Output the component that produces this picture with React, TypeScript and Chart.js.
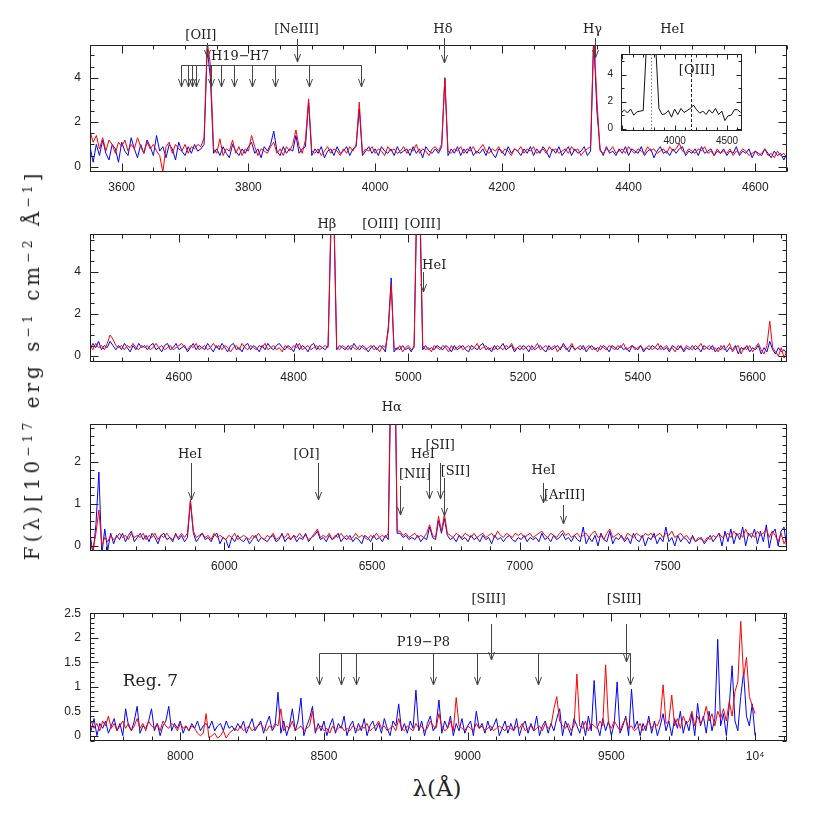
import React, { useEffect, useRef } from "react";
import { Chart, registerables } from "chart.js";

Chart.register(...registerables);

const RED = "rgb(255,0,0)";
const BLUE = "rgb(0,0,255)";

// ---------------- Panel 1 : 3550-4650 A ----------------
const P1_START = 3550;
const P1_STEP = 5;
const P1_RED = [
  1.6, 1.1, 1.4, 0.8, 1.3, 0.7, 1.2, 1.0, 0.6, 1.1,
  0.9, 1.2, 0.7, 1.0, 0.8, 1.3, 0.9, 0.6, 1.1, 0.8,
  1.0, 0.7, 0.5, -0.25, 0.9, 1.1, 0.6, 1.0, 0.8, 0.7,
  1.0, 0.6, 0.9, 0.8, 1.0, 0.9, 1.3, 5.6, 4.6, 0.8,
  0.6, 1.25, 0.5, 0.8, 0.7, 1.2, 0.6, 0.9, 0.5, 0.8,
  0.7, 1.4, 0.9, 0.5, 0.8, 0.7, 0.6, 0.9, 1.1, 0.6,
  0.8, 0.5, 0.9, 0.7, 1.0, 1.65, 0.9, 0.6, 1.2, 3.05,
  0.7, 0.6, 0.8, 0.5, 0.7, 0.9, 0.6, 0.8, 0.7, 0.5,
  0.8, 0.6, 0.9, 0.7, 1.0, 2.9, 0.6, 0.8, 0.7, 0.9,
  0.6, 0.8, 0.7, 0.5, 0.9, 0.7, 0.8, 0.6, 0.7, 0.9,
  0.6, 0.8, 0.7, 1.0, 0.6, 0.8, 0.7, 0.5, 0.8, 0.9,
  0.7, 1.0, 3.95, 0.7, 0.6, 0.8, 0.7, 0.9, 0.6, 0.8,
  0.7, 0.9, 0.6, 0.8, 1.0, 0.7, 0.6, 0.8, 0.7, 0.9,
  0.6, 0.8, 0.7, 0.5, 0.8, 0.7, 0.9, 0.6, 0.8, 0.7,
  0.9, 0.6, 0.7, 0.8, 0.6, 0.9, 0.7, 0.8, 0.6, 0.7,
  0.8, 0.6, 0.9, 0.7, 0.8, 0.5, 0.7, 0.8, 0.9, 6.0,
  3.0, 0.7, 0.6, 0.8, 0.7, 0.9, 0.6, 0.7, 0.8, 0.6,
  0.9, 0.7, 0.6, 0.8, 0.7, 0.6, 0.9, 0.7, 0.8, 0.6,
  0.7, 0.8, 0.6, 0.9, 0.7, 0.8, 1.05, 0.7, 0.6, 0.8,
  0.7, 0.6, 0.8, 0.7, 0.9, 0.6, 0.7, 0.5, 0.8, 0.6,
  0.7, 0.6, 0.8, 0.5, 0.7, 0.6, 0.8, 0.7, 0.5, 0.6,
  0.7, 0.5, 0.6, 0.8, 0.5, 0.6, 0.4, 0.7, 0.5, 0.6, 0.4,
];
const P1_BLUE = [
  0.9, 0.2, 1.0, 0.5, 1.2, 0.6, 0.3, 1.0, 0.8, 0.2,
  1.1, 0.7, 0.5, 1.3, 0.8, 0.4, 1.0, 0.6, 1.2, 0.9,
  0.5, 1.4, 0.7, 0.9, 0.4, 1.0, 0.8, 0.3, 1.1, 0.7,
  0.5, 0.9, 0.6, 1.0, 0.7, 0.8, 1.0, 5.3, 4.0, 0.6,
  0.8, 0.5, 0.9, 0.6, 0.4, 1.0, 0.7, 0.5, 0.8, 0.6,
  0.9, 1.1, 0.6, 0.8, 0.4, 0.9, 0.7, 1.0, 1.6, 0.7,
  0.5, 0.9, 0.6, 0.8, 0.7, 1.4, 0.6, 0.8, 0.9, 2.9,
  0.5, 0.8, 0.6, 0.9, 0.4, 0.7, 0.8, 0.5, 0.9, 0.6,
  0.7, 0.9, 0.5, 0.8, 0.9, 2.6, 0.5, 0.7, 0.9, 0.6,
  0.8, 0.5, 0.9, 0.7, 0.6, 0.8, 0.5, 0.9, 0.6, 0.7,
  0.8, 0.5, 0.9, 0.6, 0.8, 0.4, 0.9, 0.7, 0.6, 0.8,
  0.6, 0.9, 4.0, 0.5, 0.8, 0.6, 0.9, 0.5, 0.8, 0.6,
  0.9, 0.5, 0.7, 0.6, 0.8, 0.5, 0.9, 0.6, 0.4, 0.8,
  0.7, 0.5, 0.9, 0.6, 0.8, 0.7, 0.5, 0.8, 0.6, 0.9,
  0.5, 0.8, 0.6, 0.9, 0.7, 0.4, 0.8, 0.6, 0.9, 0.5,
  0.7, 0.9, 0.5, 0.8, 0.6, 0.7, 0.9, 0.5, 0.7, 5.8,
  2.5, 0.8, 0.5, 0.9, 0.6, 0.7, 0.5, 0.8, 0.6, 0.9,
  0.5, 0.8, 0.7, 0.6, 0.9, 0.5, 0.7, 0.8, 0.4, 0.7,
  0.9, 0.6, 0.7, 0.5, 0.8, 0.6, 0.8, 0.9, 0.5, 0.7,
  0.6, 0.8, 0.5, 0.9, 0.6, 0.7, 0.8, 0.5, 0.7, 0.6,
  0.8, 0.5, 0.7, 0.6, 0.9, 0.5, 0.7, 0.6, 0.8, 0.4,
  0.7, 0.6, 0.5, 0.8, 0.6, 0.4, 0.7, 0.5, 0.6, 0.3, 0.6,
];
const P1_XTICKS = [3600, 3800, 4000, 4200, 4400, 4600];
const P1_YTICKS = [0, 2, 4];

// ---------------- Panel 2 : 4445-5660 A ----------------
const P2_START = 4445;
const P2_STEP = 5;
const P2_RED = [
  0.5, 0.3, 0.6, 0.4, 0.5, 0.3, 0.6, 1.0, 0.8, 0.5,
  0.4, 0.5, 0.3, 0.5, 0.4, 0.6, 0.4, 0.3, 0.5, 0.4,
  0.5, 0.3, 0.4, 0.6, 0.4, 0.5, 0.3, 0.4, 0.5, 0.3,
  0.4, 0.5, 0.6, 0.4, 0.3, 0.5, 0.4, 0.6, 0.3, 0.4,
  0.5, 0.3, 0.4, 0.6, 0.4, 0.5, 0.3, 0.5, 0.4, 0.2,
  0.4, 0.5, 0.3, 0.6, 0.4, 0.3, 0.5, 0.4, 0.3, 0.5,
  0.4, 0.6, 0.3, 0.4, 0.5, 0.3, 0.4, 0.2, 0.5, 0.4,
  0.3, 0.5, 0.4, 0.6, 0.3, 0.4, 0.5, 0.3, 0.4, 0.5,
  0.3, 0.4, 0.5, 0.4, 6.5, 7.0, 0.4, 0.3, 0.5, 0.4,
  0.3, 0.5, 0.4, 0.3, 0.5, 0.4, 0.3, 0.4, 0.5, 0.3,
  0.4, 0.2, 0.5, 0.4, 1.2, 3.4, 0.4, 0.3, 0.5, 0.2,
  0.4, 0.5, 0.3, 0.4, 8.0, 7.5, 0.5, 0.3, 0.4, 0.2,
  0.5, 0.4, 0.3, 0.5, 0.4, 0.2, 0.5, 0.3, 0.4, 0.5,
  0.3, 0.4, 0.5, 0.3, 0.4, 0.6, 0.3, 0.4, 0.5, 0.3,
  0.4, 0.3, 0.5, 0.4, 0.3, 0.5, 0.4, 0.6, 0.3, 0.4,
  0.5, 0.3, 0.4, 0.5, 0.3, 0.4, 0.6, 0.3, 0.4, 0.5,
  0.3, 0.4, 0.5, 0.2, 0.4, 0.5, 0.3, 0.4, 0.6, 0.3,
  0.4, 0.5, 0.3, 0.4, 0.5, 0.3, 0.4, 0.2, 0.5, 0.4,
  0.3, 0.5, 0.4, 0.3, 0.5, 0.4, 0.6, 0.3, 0.4, 0.5,
  0.3, 0.4, 0.5, 0.3, 0.4, 0.5, 0.3, 0.4, 0.6, 0.3,
  0.4, 0.5, 0.3, 0.4, 0.2, 0.5, 0.4, 0.3, 0.5, 0.4,
  0.3, 0.5, 0.4, 0.6, 0.3, 0.4, 0.5, 0.3, 0.4, 0.2,
  0.5, 0.3, 0.4, 0.6, 0.2, 0.4, 0.5, 0.1, 0.4, 0.3,
  0.5, 0.2, 0.4, 0.6, 0.3, 0.1, 0.5, 1.65, 0.4, 0.2,
  0.0, 0.4, -0.1, 0.3,
];
const P2_BLUE = [
  0.3, 0.6, 0.4, 0.7, 0.3, 0.5, 0.4, 0.7, 0.5, 0.3,
  0.5, 0.3, 0.6, 0.4, 0.2, 0.5, 0.3, 0.6, 0.4, 0.5,
  0.3, 0.5, 0.6, 0.3, 0.4, 0.2, 0.5, 0.6, 0.3, 0.4,
  0.6, 0.3, 0.4, 0.5, 0.2, 0.4, 0.6, 0.3, 0.5, 0.4,
  0.3, 0.6, 0.4, 0.2, 0.5, 0.3, 0.6, 0.4, 0.2, 0.5,
  0.6, 0.3, 0.4, 0.2, 0.5, 0.6, 0.3, 0.5, 0.4, 0.2,
  0.5, 0.3, 0.6, 0.4, 0.3, 0.5, 0.6, 0.4, 0.3, 0.5,
  0.4, 0.2, 0.6, 0.3, 0.5, 0.4, 0.2, 0.5, 0.6, 0.3,
  0.5, 0.4, 0.3, 0.5, 6.0, 6.8, 0.3, 0.5, 0.4, 0.3,
  0.5, 0.3, 0.6, 0.4, 0.3, 0.5, 0.4, 0.2, 0.4, 0.5,
  0.3, 0.5, 0.4, 0.2, 1.4, 3.7, 0.2, 0.4, 0.3, 0.5,
  0.3, 0.4, 0.2, 0.5, 7.8, 7.0, 0.3, 0.5, 0.3, 0.4,
  0.3, 0.5, 0.4, 0.3, 0.5, 0.4, 0.2, 0.5, 0.3, 0.4,
  0.5, 0.3, 0.2, 0.5, 0.4, 0.3, 0.5, 0.6, 0.3, 0.4,
  0.2, 0.5, 0.3, 0.4, 0.6, 0.3, 0.4, 0.5, 0.2, 0.4,
  0.3, 0.5, 0.4, 0.2, 0.5, 0.3, 0.4, 0.5, 0.3, 0.2,
  0.5, 0.3, 0.4, 0.5, 0.3, 0.6, 0.4, 0.2, 0.5, 0.3,
  0.4, 0.3, 0.5, 0.2, 0.4, 0.5, 0.3, 0.4, 0.3, 0.5,
  0.4, 0.2, 0.5, 0.4, 0.3, 0.5, 0.3, 0.4, 0.2, 0.5,
  0.4, 0.3, 0.5, 0.2, 0.4, 0.3, 0.5, 0.4, 0.3, 0.5,
  0.3, 0.4, 0.2, 0.5, 0.4, 0.3, 0.5, 0.2, 0.4, 0.3,
  0.5, 0.3, 0.4, 0.2, 0.5, 0.4, 0.3, 0.5, 0.2, 0.4,
  0.3, 0.5, 0.2, 0.4, 0.3, 0.5, 0.1, 0.4, 0.3, 0.5,
  0.2, 0.4, 0.3, 0.5, 0.1, 0.4, 0.2, 0.7, 0.3, 0.1,
  0.4, 0.2, 0.3, 0.1,
];
const P2_XTICKS = [4600, 4800, 5000, 5200, 5400, 5600];
const P2_YTICKS = [0, 2, 4];

// ---------------- Panel 3 : 5545-7905 A ----------------
const P3_START = 5545;
const P3_STEP = 10;
const P3_RED = [
  0.1, -0.1, 0.3, 0.85, 0.0, 0.2, 0.1, 0.25, 0.15, 0.2,
  0.3, 0.2, 0.25, 0.15, 0.3, 0.2, 0.25, 0.2, 0.3, 0.15,
  0.25, 0.2, 0.3, 0.15, 0.25, 0.2, 0.3, 0.2, 0.15, 0.25,
  0.2, 0.3, 0.2, 0.3, 1.1, 0.35, 0.2, 0.25, 0.3, 0.2,
  0.25, 0.15, 0.3, 0.2, 0.25, 0.2, 0.15, 0.25, 0.2, 0.3,
  0.15, 0.2, 0.25, 0.2, 0.15, 0.25, 0.2, 0.3, 0.2, 0.15,
  0.25, 0.2, 0.3, 0.15, 0.2, 0.25, 0.2, 0.3, 0.15, 0.25,
  0.2, 0.3, 0.2, 0.25, 0.15, 0.2, 0.3, 0.4, 0.2, 0.25,
  0.2, 0.3, 0.15, 0.25, 0.2, 0.3, 0.2, 0.25, 0.15, 0.2,
  0.3, 0.2, 0.25, 0.2, 0.15, 0.25, 0.2, 0.3, 0.2, 0.25,
  0.2, 0.3, 5.0, 6.0, 0.35, 0.35, 0.25, 0.3, 0.2, 0.25,
  0.3, 0.2, 0.25, 0.2, 0.3, 0.5, 0.25, 0.2, 0.7, 0.35,
  0.75, 0.3, 0.25, 0.2, 0.3, 0.25, 0.2, 0.3, 0.25, 0.2,
  0.3, 0.2, 0.25, 0.3, 0.2, 0.25, 0.3, 0.2, 0.35, 0.25,
  0.2, 0.3, 0.25, 0.2, 0.3, 0.25, 0.3, 0.2, 0.25, 0.3,
  0.2, 0.25, 0.3, 0.35, 0.25, 0.2, 0.3, 0.25, 0.2, 0.3,
  0.37, 0.25, 0.3, 0.2, 0.25, 0.3, 0.2, 0.25, 0.3, 0.2,
  0.3, 0.35, 0.2, 0.25, 0.15, 0.3, 0.4, 0.2, 0.25, 0.3,
  0.2, 0.15, 0.3, 0.25, 0.2, 0.3, 0.25, 0.2, 0.3, 0.25,
  0.3, 0.2, 0.25, 0.3, 0.2, 0.3, 0.25, 0.35, 0.2, 0.25,
  0.3, 0.2, 0.25, 0.15, 0.2, 0.1, 0.2, 0.15, 0.1, 0.2,
  0.15, 0.25, 0.2, 0.3, 0.2, 0.25, 0.3, 0.2, 0.35, 0.25,
  0.3, 0.2, 0.4, 0.25, 0.3, 0.2, 0.35, 0.25, 0.3, 0.4,
  0.2, 0.35, 0.25, 0.1, 0.3, 0.05, 0.2,
];
const P3_BLUE = [
  0.3, -0.2, 0.5, 1.75, -0.2, 0.4, -0.1, 0.3, 0.05, 0.25,
  0.15, 0.3, 0.1, 0.25, 0.35, 0.1, 0.2, 0.3, 0.15, 0.25,
  0.1, 0.3, 0.2, 0.05, 0.25, 0.3, 0.15, 0.2, 0.1, 0.3,
  0.15, 0.25, 0.1, 0.2, 1.05, 0.3, 0.1, 0.2, 0.3, 0.15,
  0.2, 0.1, 0.25, 0.3, 0.05, 0.2, 0.15, -0.05, 0.2, 0.1,
  0.25, 0.15, 0.1, 0.2, 0.05, 0.15, 0.25, 0.1, 0.2, 0.15,
  0.1, 0.2, 0.25, 0.1, 0.15, 0.3, 0.1, 0.2, 0.15, 0.25,
  0.1, 0.2, 0.15, 0.3, 0.1, 0.2, 0.25, 0.35, 0.15, 0.2,
  0.1, 0.25, 0.15, 0.2, 0.3, 0.1, 0.2, 0.15, 0.25, 0.1,
  0.2, 0.15, 0.05, 0.25, 0.2, 0.1, 0.25, 0.15, 0.2, 0.1,
  0.25, 0.15, 4.5, 5.5, 0.3, 0.3, 0.2, 0.25, 0.15, 0.2,
  0.15, 0.25, 0.1, 0.2, 0.15, 0.45, 0.2, 0.15, 0.6, 0.3,
  0.65, 0.25, 0.15, 0.2, 0.1, 0.25, 0.15, 0.2, 0.1, 0.25,
  0.15, 0.2, 0.1, 0.25, 0.15, 0.2, 0.05, 0.25, 0.15, 0.2,
  0.1, 0.2, 0.25, 0.15, 0.1, 0.2, 0.15, 0.25, 0.1, 0.2,
  0.15, 0.2, 0.1, 0.3, 0.15, 0.2, 0.1, 0.25, 0.15, 0.2,
  0.3, 0.15, 0.2, 0.1, 0.25, 0.15, 0.1, 0.45, 0.05, 0.2,
  0.1, 0.25, 0.0, 0.3, 0.15, 0.1, 0.35, 0.05, 0.2, 0.15,
  0.25, 0.1, 0.2, 0.05, 0.3, 0.15, 0.1, 0.25, 0.0, 0.2,
  0.15, 0.3, 0.05, 0.2, 0.1, 0.45, 0.1, 0.2, 0.0, 0.25,
  0.1, 0.2, 0.15, 0.05, 0.25, 0.1, 0.15, 0.2, 0.05, 0.15,
  0.25, 0.1, 0.2, 0.3, 0.0, 0.35, 0.1, 0.4, 0.05, 0.3,
  0.15, 0.45, 0.0, 0.3, 0.2, 0.4, 0.05, 0.35, 0.1, 0.5,
  -0.05, 0.3, 0.4, 0.0, 0.35, 0.45, -0.1,
];
const P3_XTICKS = [6000, 6500, 7000, 7500];
const P3_YTICKS = [0, 1, 2];

// ---------------- Panel 4 : 7690-10000 A ----------------
const P4_START = 7690;
const P4_STEP = 10;
const P4_RED = [
  0.3, 0.15, 0.25, 0.1, 0.3, 0.2, 0.4, 0.15, 0.25, 0.1,
  0.2, 0.3, 0.15, 0.25, 0.1, 0.2, 0.35, 0.15, 0.25, 0.1,
  0.3, 0.2, 0.15, 0.25, 0.1, 0.3, 0.2, 0.15, 0.25, 0.2,
  0.1, 0.25, 0.15, 0.2, 0.1, 0.2, 0.15, 0.05, 0.0, 0.05,
  0.45, -0.05, 0.0, 0.05, -0.05, 0.0, 0.1, -0.05, 0.05, 0.1,
  0.15, 0.1, 0.2, 0.1, 0.15, 0.2, 0.1, 0.15, 0.2, 0.25,
  0.15, 0.1, 0.2, 0.15, 0.25, 0.2, 0.55, 0.1, 0.2, 0.15,
  0.3, 0.1, 0.15, 0.2, 0.1, 0.15, 0.2, 0.5, 0.1, 0.15,
  0.2, 0.1, 0.15, 0.05, 0.2, 0.1, 0.15, 0.2, 0.1, 0.15,
  0.1, 0.2, 0.15, 0.1, 0.2, 0.15, 0.25, 0.1, 0.15, 0.2,
  0.3, 0.15, 0.2, 0.1, 0.15, 0.2, 0.1, 0.35, 0.15, 0.1,
  0.2, 0.15, 0.1, 0.25, 0.15, 0.2, 0.1, 0.15, 0.3, 0.2,
  0.15, 0.45, 0.2, 0.1, 0.15, 0.3, 0.1, 0.78, 0.2, 0.15,
  0.1, 0.2, 0.15, 0.1, 0.25, 0.15, 0.2, 0.1, 0.15, 0.2,
  0.1, 0.15, 0.2, 0.15, 0.1, 0.2, 0.15, 0.1, 0.2, 0.15,
  0.25, 0.1, 0.15, 0.2, 0.1, 0.15, 0.2, 0.1, 0.25, 0.15,
  0.2, 0.55, 0.8, 0.3, 0.2, 0.15, 0.25, 0.1, 0.2, 1.26,
  0.2, 0.15, 0.3, 0.1, 0.25, 0.2, 0.15, 0.3, 0.2, 1.45,
  0.25, 0.15, 0.3, 0.2, 0.1, 0.25, 0.35, 0.15, 0.2, 0.1,
  0.15, 0.25, 0.1, 0.2, 0.3, 0.15, 0.25, 0.2, 0.35, 1.04,
  0.25, 0.3, 0.83, 0.2, 0.35, 0.15, 0.4, 0.25, 0.3, 0.5,
  0.2, 0.4, 0.25, 0.35, 0.6, 0.3, 0.45, 0.2, 0.5, 0.35,
  0.55, 0.3, 0.7, 0.4, 0.9, 1.1, 2.34, 1.2, 1.6, 0.8,
  0.62, 0.45,
];
const P4_BLUE = [
  0.1, 0.35, 0.0, 0.25, 0.15, 0.3, 0.05, 0.2, 0.35, 0.1,
  0.25, 0.0, 0.55, 0.2, 0.1, 0.3, 0.6, 0.05, 0.2, 0.15,
  0.3, 0.55, 0.1, 0.25, 0.0, 0.2, 0.3, 0.6, 0.1, 0.25,
  0.15, 0.3, 0.05, 0.2, 0.1, 0.25, 0.15, 0.3, 0.1, 0.2,
  0.25, 0.15, 0.3, 0.1, 0.2, 0.25, 0.1, 0.3, 0.15, 0.2,
  0.1, 0.25, 0.15, 0.3, 0.05, 0.2, 0.35, 0.1, 0.2, 0.3,
  0.05, 0.25, 0.4, 0.1, 0.2, 0.89, 0.05, 0.3, 0.0, 0.2,
  0.55, 0.1, 0.3, 0.77, 0.0, 0.2, 0.35, 0.6, 0.05, 0.25,
  0.1, 0.3, 0.0, 0.2, 0.35, 0.05, 0.25, 0.15, 0.4, 0.0,
  0.2, 0.3, 0.05, 0.25, 0.1, 0.35, 0.0, 0.2, 0.3, 0.1,
  0.25, 0.05, 0.35, 0.15, 0.0, 0.3, 0.2, 0.65, 0.1, 0.25,
  0.05, 0.3, 0.15, 0.93, 0.1, 0.3, 0.0, 0.25, 0.4, 0.1,
  0.2, 0.73, 0.05, 0.3, 0.15, 0.4, 0.0, 0.25, 0.1, 0.35,
  0.05, 0.2, 0.3, 0.0, 0.5, 0.15, 0.25, 0.05, 0.3, 0.1,
  0.2, 0.35, 0.0, 0.15, 0.3, 0.05, 0.25, 0.1, 0.35, 0.0,
  0.2, 0.3, 0.05, 0.25, 0.1, 0.4, 0.0, 0.2, 0.3, 0.05,
  0.25, 0.1, 0.35, 0.55, 0.0, 0.3, 0.15, 0.0, 0.35, 0.2,
  0.05, 0.3, 0.0, 0.4, 0.1, 1.13, 0.2, 0.0, 0.35, 0.1,
  0.3, 0.0, 0.25, 1.1, 0.05, 0.2, 0.4, 0.0, 0.95, 0.15,
  0.3, 0.0, 0.25, 0.1, 0.4, 0.05, 0.3, 0.0, 0.2, 0.45,
  0.1, 0.3, 0.0, 0.35, 0.15, 0.5, 0.05, 0.3, 0.1, 0.45,
  0.0, 0.66, 0.2, 0.4, 0.05, 0.5, 0.1, 0.35, 1.97, 0.2,
  0.45, 0.0, 0.6, 1.43, 0.3, 0.1, 0.8, 1.3, 0.4, 0.2,
  0.65, 0.0,
];
const P4_XTICKS = [8000, 8500, 9000, 9500, 10000];
const P4_XTICK_LABELS = ["8000", "8500", "9000", "9500", "10\u2074"];
const P4_YTICKS = [0, 0.5, 1, 1.5, 2, 2.5];

// ---------------- Inset (smoothed) ----------------
const INSET_START = 3490;
const INSET_STEP = 30;
const INSET_FLUX = [
  1.17, 1.38, 1.17, 1.45, 1.0, 1.25, 1.3, 1.35, 6.0, 6.0,
  6.0, 6.0, 1.5, 1.05, 1.1, 1.35, 0.85, 1.45, 1.05, 1.5,
  1.2, 1.35, 1.5, 1.75, 1.4, 1.15, 1.3, 1.05, 1.4, 1.15,
  1.5, 1.05, 1.3, 0.6, 0.95, 1.0, 1.4, 1.4, 1.2,
];
const INSET_XTICKS = [4000, 4500];
const INSET_YTICKS = [0, 2, 4];

// ---------------- Line identifications ----------------
const P1_LABELS = [
  { w: 3725, dy: -9, text: "[OII]" },
  { w: 3876, dy: -15, text: "[NeIII]" },
  { w: 4107, dy: -15, text: "H\u03b4" },
  { w: 4343, dy: -15, text: "H\u03b3" },
  { w: 4469, dy: -15, text: "HeI" },
  { w: 3787, dy: 12, text: "H19\u2212H7" },
];
const P1_ARROWS = [
  { w: 3735, y0: -2, y1: 13 },
  { w: 3876, y0: -6, y1: 17 },
  { w: 4108, y0: -7, y1: 18 },
  { w: 4347, y0: -7, y1: 13 },
];
const P1_BRACKETS = [
  { w0: 3694, w1: 3977, dy: 19.5, tip: 42, waves: [3694, 3704, 3711, 3718, 3741, 3757, 3777, 3805, 3842, 3896, 3977] },
];

const P2_LABELS = [
  { w: 4858, dy: -9, text: "H\u03b2" },
  { w: 4951, dy: -9, text: "[OIII]" },
  { w: 5025, dy: -9, text: "[OIII]" },
  { w: 5045, dy: 32, text: "HeI" },
];
const P2_ARROWS = [{ w: 5026, y0: 38, y1: 58 }];

const P3_LABELS = [
  { w: 6567, dy: -16, text: "H\u03b1" },
  { w: 5884, dy: 31, text: "HeI" },
  { w: 6278, dy: 31, text: "[OI]" },
  { w: 6645, dy: 51, text: "[NII]" },
  { w: 6672, dy: 31, text: "HeI" },
  { w: 6731, dy: 22, text: "[SII]" },
  { w: 6782, dy: 48, text: "[SII]" },
  { w: 7081, dy: 47, text: "HeI" },
  { w: 7152, dy: 72, text: "[ArIII]" },
];
const P3_ARROWS = [
  { w: 5887, y0: 39, y1: 76 },
  { w: 6316, y0: 39, y1: 76 },
  { w: 6596, y0: 62, y1: 91 },
  { w: 6692, y0: 39, y1: 75 },
  { w: 6729, y0: 39, y1: 75 },
  { w: 6743, y0: 54, y1: 92 },
  { w: 7078, y0: 59, y1: 79 },
  { w: 7147, y0: 81, y1: 100 },
];

const P4_LABELS = [
  { w: 9073, dy: -13, text: "[SIII]" },
  { w: 9544, dy: -13, text: "[SIII]" },
  { w: 8846, dy: 30, text: "P19\u2212P8" },
  { w: 7800, dy: 69, text: "Reg. 7", size: 17, align: "left" },
];
const P4_ARROWS = [
  { w: 9082, y0: 11, y1: 47 },
  { w: 9550, y0: 11, y1: 49 },
];
const P4_BRACKETS = [
  { w0: 8481, w1: 9565, dy: 39.7, tip: 72, waves: [8481, 8560, 8613, 8879, 9033, 9245, 9565] },
];

const INSET_LABELS = [{ w: 4213, dy: 17, text: "[OIII]" }];
const INSET_VLINES = [
  { w: 3774, dash: [1.5, 2], color: "#777" },
  { w: 4159, dash: [3, 2], color: "#222" },
];

// ---------------- helpers ----------------
const pts = (start: number, step: number, arr: number[]) =>
  arr.map((v, i) => ({ x: start + i * step, y: v }));

const ANN_FONT = '"DejaVu Serif", serif';
const TICK_FONT = "Liberation Sans";

function drawArrow(ctx: CanvasRenderingContext2D, x: number, y0: number, y1: number) {
  const px = Math.round(x) + 0.5;
  ctx.beginPath();
  ctx.moveTo(px, y0);
  ctx.lineTo(px, y1);
  ctx.moveTo(px - 3, y1 - 8);
  ctx.lineTo(px, y1);
  ctx.lineTo(px + 3, y1 - 8);
  ctx.stroke();
}

function makeFrame(s: any) {
  return {
    id: "frame",
    beforeDraw(chart: any) {
      if (!s.bg) return;
      const a = chart.chartArea;
      const ctx = chart.ctx;
      ctx.save();
      ctx.fillStyle = "#fff";
      ctx.fillRect(a.left, a.top, a.right - a.left, a.bottom - a.top);
      ctx.restore();
    },
    afterDraw(chart: any) {
      const { ctx, chartArea: a } = chart;
      const x = chart.scales.x;
      const y = chart.scales.y;
      const L = Math.round(a.left) + 0.5;
      const R = Math.round(a.right) - 0.5;
      const T = Math.round(a.top) + 0.5;
      const B = Math.round(a.bottom) - 0.5;
      ctx.save();
      ctx.strokeStyle = "#222";
      ctx.lineWidth = 1;
      ctx.strokeRect(L, T, R - L, B - T);
      ctx.beginPath();
      const isMajor = (v: number, m: number) => Math.abs(v / m - Math.round(v / m)) < 1e-6;
      const k0 = Math.ceil(x.min / s.xMinor - 1e-9);
      const k1 = Math.floor(x.max / s.xMinor + 1e-9);
      for (let k = k0; k <= k1; k++) {
        const v = k * s.xMinor;
        const len = isMajor(v, s.xMajor) ? s.majorLen : s.minorLen;
        const px = Math.round(x.getPixelForValue(v)) + 0.5;
        ctx.moveTo(px, B);
        ctx.lineTo(px, B - len);
        ctx.moveTo(px, T);
        ctx.lineTo(px, T + len);
      }
      const j0 = Math.ceil(y.min / s.yMinor - 1e-9);
      const j1 = Math.floor(y.max / s.yMinor + 1e-9);
      for (let j = j0; j <= j1; j++) {
        const v = j * s.yMinor;
        const len = isMajor(v, s.yMajor) ? s.majorLen : s.minorLen;
        const py = Math.round(y.getPixelForValue(v)) + 0.5;
        ctx.moveTo(L, py);
        ctx.lineTo(L + len, py);
        ctx.moveTo(R, py);
        ctx.lineTo(R - len, py);
      }
      ctx.stroke();
      ctx.restore();
    },
  };
}

function makeAnnot(s: any) {
  return {
    id: "annot",
    afterDraw(chart: any) {
      const { ctx, chartArea: a } = chart;
      const x = chart.scales.x;
      ctx.save();
      ctx.lineWidth = 1;
      for (const v of s.vlines || []) {
        const px = Math.round(x.getPixelForValue(v.w)) + 0.5;
        ctx.strokeStyle = v.color;
        ctx.setLineDash(v.dash);
        ctx.beginPath();
        ctx.moveTo(px, a.top);
        ctx.lineTo(px, a.bottom);
        ctx.stroke();
      }
      ctx.setLineDash([]);
      ctx.strokeStyle = "#444";
      for (const ar of s.arrows || []) {
        drawArrow(ctx, x.getPixelForValue(ar.w), a.top + ar.y0, a.top + ar.y1);
      }
      for (const b of s.brackets || []) {
        const yy = Math.round(a.top + b.dy) + 0.5;
        ctx.beginPath();
        ctx.moveTo(Math.round(x.getPixelForValue(b.w0)) + 0.5, yy);
        ctx.lineTo(Math.round(x.getPixelForValue(b.w1)) + 0.5, yy);
        ctx.stroke();
        for (const w of b.waves) drawArrow(ctx, x.getPixelForValue(w), yy, a.top + b.tip);
      }
      ctx.fillStyle = "#222";
      ctx.textBaseline = "middle";
      for (const t of s.labels || []) {
        ctx.font = `${t.size || s.annSize || 13}px ${ANN_FONT}`;
        ctx.textAlign = t.align || "center";
        ctx.fillText(t.text, x.getPixelForValue(t.w), a.top + t.dy);
      }
      ctx.restore();
    },
  };
}

const PANELS = [
  {
    key: "p1", left: 0, top: 0, width: 830, height: 200, padTop: 45, padBottom: 28, padRight: 43, yWidth: 90,
    xMin: 3550, xMax: 4650, yMin: -0.24, yMax: 5.47,
    series: [{ start: P1_START, step: P1_STEP, data: P1_RED, color: RED }, { start: P1_START, step: P1_STEP, data: P1_BLUE, color: BLUE }],
    xTicks: P1_XTICKS, xLabels: P1_XTICKS.map(String), yTicks: P1_YTICKS,
    xMinor: 50, xMajor: 200, yMinor: 0.5, yMajor: 2, majorLen: 8, minorLen: 4, tickSize: 12,
    labels: P1_LABELS, arrows: P1_ARROWS, brackets: P1_BRACKETS,
  },
  {
    key: "p2", left: 0, top: 200, width: 830, height: 190, padTop: 34, padBottom: 28, padRight: 43, yWidth: 90,
    xMin: 4445, xMax: 5660, yMin: -0.28, yMax: 5.78,
    series: [{ start: P2_START, step: P2_STEP, data: P2_RED, color: RED }, { start: P2_START, step: P2_STEP, data: P2_BLUE, color: BLUE }],
    xTicks: P2_XTICKS, xLabels: P2_XTICKS.map(String), yTicks: P2_YTICKS,
    xMinor: 50, xMajor: 200, yMinor: 0.5, yMajor: 2, majorLen: 8, minorLen: 4, tickSize: 12,
    labels: P2_LABELS, arrows: P2_ARROWS, brackets: [],
  },
  {
    key: "p3", left: 0, top: 390, width: 830, height: 190, padTop: 34, padBottom: 29, padRight: 43, yWidth: 90,
    xMin: 5545, xMax: 7905, yMin: -0.12, yMax: 2.89,
    series: [{ start: P3_START, step: P3_STEP, data: P3_RED, color: RED }, { start: P3_START, step: P3_STEP, data: P3_BLUE, color: BLUE }],
    xTicks: P3_XTICKS, xLabels: P3_XTICKS.map(String), yTicks: P3_YTICKS,
    xMinor: 100, xMajor: 500, yMinor: 0.2, yMajor: 1, majorLen: 8, minorLen: 4, tickSize: 12,
    labels: P3_LABELS, arrows: P3_ARROWS, brackets: [],
  },
  {
    key: "p4", left: 0, top: 580, width: 830, height: 190, padTop: 33, padBottom: 29, padRight: 43, yWidth: 90,
    xMin: 7686, xMax: 10111, yMin: -0.109, yMax: 2.51,
    series: [{ start: P4_START, step: P4_STEP, data: P4_RED, color: RED }, { start: P4_START, step: P4_STEP, data: P4_BLUE, color: BLUE }],
    xTicks: P4_XTICKS, xLabels: P4_XTICK_LABELS, yTicks: P4_YTICKS,
    xMinor: 100, xMajor: 500, yMinor: 0.1, yMajor: 0.5, majorLen: 8, minorLen: 4, tickSize: 12,
    labels: P4_LABELS, arrows: P4_ARROWS, brackets: P4_BRACKETS,
  },
  {
    key: "inset", left: 595, top: 40, width: 160, height: 115, padTop: 10, padBottom: 24, padRight: 13, yWidth: 26,
    xMin: 3488, xMax: 4643, yMin: -0.17, yMax: 5.53, bg: true,
    series: [{ start: INSET_START, step: INSET_STEP, data: INSET_FLUX, color: "#111" }],
    xTicks: INSET_XTICKS, xLabels: INSET_XTICKS.map(String), yTicks: INSET_YTICKS,
    xMinor: 100, xMajor: 500, yMinor: 1, yMajor: 2, majorLen: 5, minorLen: 3, tickSize: 10,
    labels: INSET_LABELS, vlines: INSET_VLINES, annSize: 13,
  },
];

function SpectrumPanel({ spec }: { spec: any }) {
  const ref = useRef<HTMLCanvasElement | null>(null);
  useEffect(() => {
    if (!ref.current) return;
    const s = spec;
    const chart = new Chart(ref.current, {
      type: "line",
      data: {
        datasets: s.series.map((d: any) => ({
          data: pts(d.start, d.step, d.data),
          borderColor: d.color,
          borderWidth: 1,
          pointRadius: 0,
          tension: 0,
          fill: false,
          clip: 0,
        })),
      },
      options: {
        responsive: false,
        animation: false,
        devicePixelRatio: 1,
        events: [],
        layout: { padding: { top: s.padTop, right: s.padRight, left: 0, bottom: 0 } },
        plugins: { legend: { display: false }, tooltip: { enabled: false } },
        scales: {
          x: {
            type: "linear",
            min: s.xMin,
            max: s.xMax,
            grid: { display: false, drawTicks: false },
            border: { display: false },
            ticks: {
              autoSkip: false,
              maxRotation: 0,
              padding: s.key === "inset" ? 4 : 8,
              color: "#222",
              font: { family: TICK_FONT, size: s.tickSize },
              callback: (_v: any, i: number) => s.xLabels[i],
            },
            afterBuildTicks: (sc: any) => {
              sc.ticks = s.xTicks.map((v: number) => ({ value: v }));
            },
            afterFit: (sc: any) => {
              sc.height = s.padBottom;
            },
          },
          y: {
            type: "linear",
            min: s.yMin,
            max: s.yMax,
            grid: { display: false, drawTicks: false },
            border: { display: false },
            ticks: {
              autoSkip: false,
              padding: s.key === "inset" ? 8 : 9,
              color: "#222",
              font: { family: TICK_FONT, size: s.tickSize },
              callback: (v: any) => String(v),
            },
            afterBuildTicks: (sc: any) => {
              sc.ticks = s.yTicks.map((v: number) => ({ value: v }));
            },
            afterFit: (sc: any) => {
              sc.width = s.yWidth;
            },
          },
        },
      },
      plugins: [makeFrame(s), makeAnnot(s)],
    } as any);
    return () => chart.destroy();
  }, [spec]);
  return (
    <canvas
      ref={ref}
      width={spec.width}
      height={spec.height}
      style={{ position: "absolute", left: spec.left, top: spec.top, width: spec.width, height: spec.height }}
    />
  );
}

export default function App() {
  const sup: React.CSSProperties = { fontSize: "0.62em", verticalAlign: "0.55em", lineHeight: 0 };
  return (
    <div style={{ position: "fixed", left: 0, top: 0, width: 830, height: 830, background: "#fff", overflow: "hidden" }}>
      {PANELS.map((p) => (
        <SpectrumPanel key={p.key} spec={p} />
      ))}
      <div
        style={{
          position: "absolute",
          left: 32,
          top: 365,
          transform: "translate(-50%, -50%) rotate(-90deg)",
          whiteSpace: "nowrap",
          fontFamily: '"DejaVu Serif", serif',
          fontSize: 20,
          letterSpacing: 4,
          color: "#222",
          lineHeight: 1,
        }}
      >
        F(λ)[10<span style={sup}>−17</span> erg s<span style={sup}>−1</span> cm<span style={sup}>−2</span> Å<span style={sup}>−1</span>]
      </div>
      <div
        style={{
          position: "absolute",
          left: 437,
          top: 788,
          transform: "translate(-50%, -50%)",
          whiteSpace: "nowrap",
          fontFamily: '"DejaVu Serif", serif',
          fontSize: 23,
          color: "#222",
          lineHeight: 1,
        }}
      >
        λ(Å)
      </div>
    </div>
  );
}
